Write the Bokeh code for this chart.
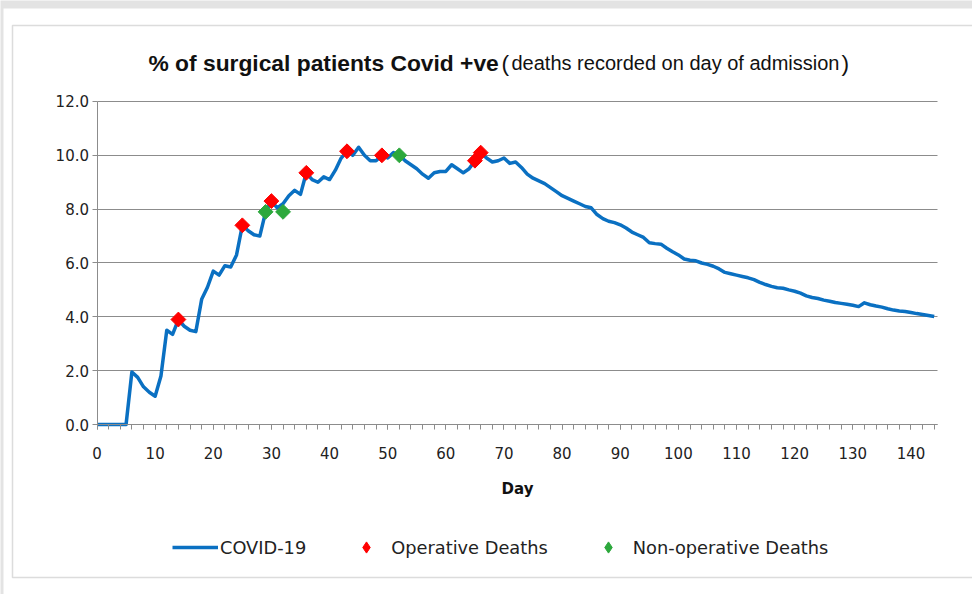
import numpy as np
from bokeh.plotting import figure
from bokeh.models import (Range1d, SingleIntervalTicker, FixedTicker, Label, BoxAnnotation,
                          Legend, LegendItem, NumeralTickFormatter)
from bokeh.embed import file_html
from bokeh.resources import INLINE

# ---- data ----
days = list(range(0, 145))
covid_pct = [
    0.0, 0.0, 0.0, 0.0, 0.0, 0.0, 1.95, 1.75, 1.4, 1.2,          # 0-9
    1.05, 1.8, 3.5, 3.35, 3.9, 3.65, 3.5, 3.45, 4.65, 5.1,        # 10-19
    5.7, 5.55, 5.9, 5.85, 6.3, 7.4, 7.2, 7.05, 7.0, 7.9,          # 20-29
    8.3, 8.05, 8.2, 8.5, 8.7, 8.55, 9.35, 9.1, 9.0, 9.2,          # 30-39
    9.1, 9.45, 9.9, 10.15, 10.0, 10.3, 10.0, 9.8, 9.8, 10.0,      # 40-49
    9.9, 10.1, 10.0, 9.8, 9.65, 9.5, 9.3, 9.15, 9.35, 9.4,        # 50-59
    9.4, 9.65, 9.5, 9.35, 9.5, 9.8, 10.1, 9.9, 9.75, 9.8,         # 60-69
    9.9, 9.7, 9.75, 9.55, 9.3, 9.15, 9.05, 8.95, 8.8, 8.65,       # 70-79
    8.5, 8.4, 8.3, 8.2, 8.1, 8.05, 7.8, 7.65, 7.55, 7.5,          # 80-89
    7.42, 7.3, 7.15, 7.05, 6.95, 6.75, 6.72, 6.7, 6.55, 6.42,     # 90-99
    6.3, 6.15, 6.1, 6.08, 6.0, 5.95, 5.88, 5.78, 5.65, 5.6,       # 100-109
    5.55, 5.5, 5.45, 5.38, 5.28, 5.2, 5.13, 5.08, 5.06, 5.0,      # 110-119
    4.95, 4.88, 4.78, 4.72, 4.68, 4.62, 4.58, 4.53, 4.5, 4.47,    # 120-129
    4.43, 4.38, 4.52, 4.45, 4.4, 4.36, 4.3, 4.25, 4.22, 4.2,      # 130-139
    4.16, 4.12, 4.09, 4.05, 4.01,                                 # 140-144
]
op_days = [14, 25, 30, 36, 43, 49, 65, 66]
op_vals = [3.9, 7.4, 8.3, 9.35, 10.15, 10.0, 9.8, 10.1]
nonop_days = [29, 32, 52]
nonop_vals = [7.9, 7.9, 10.0]
y_ticks = [0, 2, 4, 6, 8, 10, 12]

title_main = "% of surgical patients Covid +ve"
title_sub = "deaths recorded on day of admission"
x_label = "Day"
series_names = ["COVID-19", "Operative Deaths", "Non-operative Deaths"]

# ---- layout geometry (pixels of the 972x594 canvas) ----
W, H = 972, 594
X_ORIGIN_PX, X_PX_PER_UNIT = 96.5, 5.814      # x=0 position, px per day
Y_ORIGIN_PX, Y_PX_PER_UNIT = 424.0, 26.917    # y=0 position, px per unit
X_AXIS_END = 144.6


def dx(px):
    return (px - X_ORIGIN_PX) / X_PX_PER_UNIT


def dy(py):
    return (Y_ORIGIN_PX - py) / Y_PX_PER_UNIT


# ---- styles ----
LINE_C = "#0a70c2"
RED = "#ff0000"
GREEN = "#2ca83c"
GRID_C = "#8c8c8c"
FONT = "DejaVu Sans"
TXT = "#222222"

p = figure(width=W, height=H, output_backend="svg", toolbar_location=None,
           x_range=Range1d(dx(0), dx(W)), y_range=Range1d(dy(H), dy(0)),
           min_border=0, min_border_left=0, min_border_right=0,
           min_border_top=0, min_border_bottom=0)
p.title.visible = False
p.outline_line_color = None
p.background_fill_color = "#e3e3e3"
p.border_fill_color = "#e3e3e3"

# white page area and chart border (like the screenshot)
p.add_layout(BoxAnnotation(left=dx(3), right=dx(W + 50), top=dy(8), bottom=dy(H + 50),
                           fill_color="white", fill_alpha=1, line_alpha=0, level="image"))
p.add_layout(BoxAnnotation(left=dx(12), right=dx(W + 50), top=dy(25), bottom=dy(577),
                           fill_alpha=0, line_color="#8c8c8c", line_width=1.5, level="underlay"))

# axes (placed at the data origin)
xa = p.xaxis[0]
xa.fixed_location = 0
xa.bounds = (0, X_AXIS_END)
xa.ticker = SingleIntervalTicker(interval=10, num_minor_ticks=5)
xa.axis_line_color = GRID_C
xa.major_tick_line_color = GRID_C
xa.minor_tick_line_color = GRID_C
xa.major_tick_out = 5
xa.major_tick_in = 0
xa.minor_tick_out = 5
xa.minor_tick_in = 0
xa.major_label_text_font = FONT
xa.major_label_text_font_size = "15px"
xa.major_label_text_color = TXT
xa.major_label_standoff = 17
xa.axis_label = x_label
xa.axis_label_text_font = FONT
xa.axis_label_text_font_style = "bold"
xa.axis_label_text_font_size = "15px"
xa.axis_label_text_color = "#111111"
xa.axis_label_standoff = 18

ya = p.yaxis[0]
ya.fixed_location = 0
ya.bounds = (0, 12)
ya.ticker = FixedTicker(ticks=y_ticks)
ya.formatter = NumeralTickFormatter(format="0.0")
ya.axis_line_color = GRID_C
ya.major_tick_line_color = GRID_C
ya.major_tick_out = 5
ya.major_tick_in = 0
ya.minor_tick_line_color = None
ya.major_label_text_font = FONT
ya.major_label_text_font_size = "15px"
ya.major_label_text_color = TXT
ya.major_label_standoff = 3

p.xgrid.visible = False
p.ygrid.ticker = FixedTicker(ticks=y_ticks)
p.ygrid.grid_line_color = GRID_C
p.ygrid.grid_line_width = 1.2
p.ygrid.bounds = (0, 12)
try:
    p.ygrid.cross_bounds = (0, X_AXIS_END)
except Exception:
    p.ygrid.visible = False
    p.segment(x0=[0] * len(y_ticks), x1=[X_AXIS_END] * len(y_ticks), y0=y_ticks, y1=y_ticks,
              line_color=GRID_C, line_width=1.2)

# series
r_line = p.line(days, covid_pct, line_color=LINE_C, line_width=3.5, line_join="round")

# diamond glyphs (used as legend swatches) lie under the square-diamond markers
lg_op = p.scatter(op_days, op_vals, marker="diamond", size=9,
                  fill_color=RED, line_color=RED)
lg_nop = p.scatter(nonop_days, nonop_vals, marker="diamond", size=9,
                   fill_color=GREEN, line_color=GREEN)
r_op = p.scatter(op_days, op_vals, marker="square", angle=np.pi / 4, size=10.5,
                 fill_color=RED, line_color=RED)
r_nop = p.scatter(nonop_days, nonop_vals, marker="square", angle=np.pi / 4, size=10.5,
                  fill_color=GREEN, line_color=GREEN)

LG_H = 28
legend = Legend(items=[LegendItem(label=series_names[0], renderers=[r_line]),
                       LegendItem(label=series_names[1], renderers=[lg_op]),
                       LegendItem(label=series_names[2], renderers=[lg_nop])],
                orientation="horizontal", location=(172, H - (547 - LG_H / 2) - LG_H),
                glyph_width=46, glyph_height=LG_H, label_height=LG_H, label_standoff=2,
                spacing=37, padding=0, margin=0, border_line_color=None,
                background_fill_alpha=0, label_text_font=FONT,
                label_text_font_size="17.8px", label_text_color=TXT)
p.add_layout(legend, "center")

# title (bold part, bracket, lighter part, bracket)
TY = dy(62)
p.add_layout(Label(x=dx(148), y=TY, text=title_main,
                   text_font="Liberation Sans", text_font_style="bold", text_font_size="22.8px",
                   text_baseline="alphabetic", text_color="#111111"))
p.add_layout(Label(x=dx(501), y=TY, text="(",
                   text_font="Liberation Sans", text_font_size="22.8px",
                   text_baseline="alphabetic", text_color="#111111"))
p.add_layout(Label(x=dx(511), y=TY, text=title_sub,
                   text_font="Liberation Sans", text_font_size="20px",
                   text_baseline="alphabetic", text_color="#111111"))
p.add_layout(Label(x=dx(841), y=TY, text=")",
                   text_font="Liberation Sans", text_font_size="22.8px",
                   text_baseline="alphabetic", text_color="#111111"))

open("out.html", "w").write(file_html(p, INLINE))
